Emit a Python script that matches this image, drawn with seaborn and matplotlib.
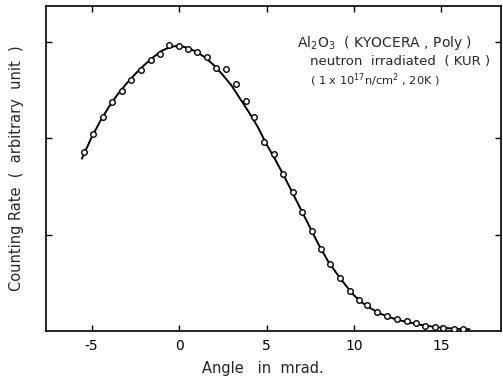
import pandas as pd
import seaborn as sns
import matplotlib.pyplot as plt

# measured points (angle in mrad, counting rate in arbitrary units)
angle = [-5.43, -4.90, -4.36, -3.81, -3.26, -2.73, -2.17, -1.62, -1.09, -0.55,
         -0.02, 0.51, 1.03, 1.58, 2.13, 2.69, 3.26, 3.80, 4.31, 4.86,
         5.43, 5.94, 6.50, 7.05, 7.58, 8.11, 8.65, 9.22, 9.77, 10.29,
         10.74, 11.31, 11.89, 12.46, 13.01, 13.54, 14.07, 14.62, 15.11, 15.71,
         16.25]
rate = [1.859, 2.046, 2.219, 2.381, 2.495, 2.603, 2.707, 2.814, 2.876, 2.970,
        2.960, 2.931, 2.897, 2.842, 2.728, 2.724, 2.562, 2.388, 2.224, 1.966,
        1.838, 1.630, 1.440, 1.239, 1.042, 0.848, 0.693, 0.547, 0.420, 0.322,
        0.265, 0.197, 0.151, 0.123, 0.104, 0.078, 0.052, 0.045, 0.031, 0.024,
        0.021]

# fitted curve
curve_x = [-5.55, -5.0, -4.5, -4.0, -3.5, -3.0, -2.5, -2.0, -1.5, -1.0,
           -0.5, 0.0, 0.5, 1.0, 1.5, 2.0, 2.5, 3.0, 3.5, 4.0,
           4.5, 5.0, 5.5, 6.0, 6.5, 7.0, 7.5, 8.0, 8.5, 9.0,
           9.5, 10.0, 10.5, 11.0, 11.5, 12.0, 12.5, 13.0, 13.5, 14.0,
           14.5, 15.0, 15.5, 16.0, 16.6]
curve_y = [1.79, 2.01, 2.18, 2.33, 2.46, 2.57, 2.67, 2.76, 2.84, 2.91,
           2.95, 2.965, 2.94, 2.90, 2.84, 2.76, 2.66, 2.55, 2.41, 2.27,
           2.12, 1.94, 1.78, 1.61, 1.43, 1.25, 1.07, 0.89, 0.73, 0.60,
           0.48, 0.37, 0.29, 0.23, 0.18, 0.145, 0.115, 0.095, 0.075, 0.058,
           0.045, 0.035, 0.027, 0.022, 0.018]

x_ticks = [-5, 0, 5, 10, 15]
y_ticks = [1, 2, 3]

sns.set_theme(style="ticks")
plt.rcParams['font.family'] = ['DejaVu Sans']

points_df = pd.DataFrame({"angle": angle, "rate": rate})
curve_df = pd.DataFrame({"angle": curve_x, "rate": curve_y})

fig = plt.figure(figsize=(5.03, 3.80), dpi=100)
ax = fig.add_axes([0.0915, 0.129, 0.9045, 0.855])

sns.lineplot(ax=ax, data=curve_df, x="angle", y="rate", color="black",
             linewidth=1.4, sort=False)
sns.scatterplot(ax=ax, data=points_df, x="angle", y="rate", marker="o",
                s=16, facecolor="white", edgecolor="black", linewidth=1.0,
                zorder=3)

ax.set_xlim(-7.6, 18.4)
ax.set_ylim(0, 3.375)
ax.set_xticks(x_ticks)
ax.set_xticklabels([str(t) for t in x_ticks])
ax.set_yticks(y_ticks)
ax.set_yticklabels([])
ax.tick_params(direction="in", length=4, width=1, top=True, right=True,
               labelsize=10, colors="black", pad=6)
for sp in ax.spines.values():
    sp.set_linewidth(1.2)
    sp.set_color("black")

ax.set_xlabel("")
ax.set_ylabel("Counting Rate  (  arbitrary  unit  )", fontsize=10.5, labelpad=10)
fig.text(263 / 503, 1 - 368 / 380, "Angle   in  mrad.", ha="center", va="center",
         fontsize=10.5)

ax.text(297 / 503, 1 - 43 / 380, r"Al$_2$O$_3$  ( KYOCERA , Poly )",
        transform=fig.transFigure, ha="left", va="center", fontsize=10)
ax.text(310 / 503, 1 - 62 / 380, "neutron  irradiated  ( KUR )",
        transform=fig.transFigure, ha="left", va="center", fontsize=9.5)
ax.text(310 / 503, 1 - 80 / 380, r"( 1 x 10$^{17}$n/cm$^2$ , 20K )",
        transform=fig.transFigure, ha="left", va="center", fontsize=8.2)

fig.savefig("out.png", dpi=100)
